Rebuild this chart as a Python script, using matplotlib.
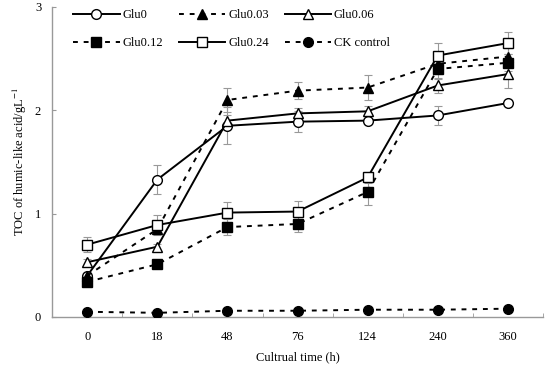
import matplotlib
matplotlib.use("Agg")
import matplotlib.pyplot as plt
import numpy as np

plt.rcParams['font.family'] = ['Liberation Serif', 'DejaVu Serif']
plt.rcParams['mathtext.fontset'] = 'stix'

times = ['0', '18', '48', '76', '124', '240', '360']
series_names = ['Glu0', 'Glu0.03', 'Glu0.06', 'Glu0.12', 'Glu0.24', 'CK control']
glu0 = [0.40, 1.33, 1.85, 1.89, 1.90, 1.95, 2.07]
glu0_err = [0.03, 0.14, 0.18, 0.10, 0.03, 0.09, 0.03]
glu003 = [0.40, 0.85, 2.10, 2.19, 2.22, 2.45, 2.52]
glu003_err = [0.03, 0.05, 0.12, 0.08, 0.12, 0.10, 0.08]
glu006 = [0.53, 0.68, 1.90, 1.97, 1.99, 2.24, 2.35]
glu006_err = [0.03, 0.03, 0.05, 0.05, 0.05, 0.07, 0.13]
glu012 = [0.34, 0.51, 0.87, 0.90, 1.21, 2.40, 2.46]
glu012_err = [0.03, 0.04, 0.08, 0.08, 0.13, 0.10, 0.08]
glu024 = [0.70, 0.89, 1.01, 1.02, 1.35, 2.53, 2.65]
glu024_err = [0.07, 0.10, 0.10, 0.10, 0.05, 0.12, 0.11]
ck = [0.05, 0.04, 0.06, 0.06, 0.07, 0.07, 0.08]
ck_err = [0.01, 0.01, 0.01, 0.01, 0.01, 0.01, 0.01]

data = [glu0, glu003, glu006, glu012, glu024, ck]
errs = [glu0_err, glu003_err, glu006_err, glu012_err, glu024_err, ck_err]
styles = [
    dict(marker='o', mfc='white', ls='-'),
    dict(marker='^', mfc='black', ls=(0, (2.5, 3))),
    dict(marker='^', mfc='white', ls='-'),
    dict(marker='s', mfc='black', ls=(0, (2.5, 3))),
    dict(marker='s', mfc='white', ls='-'),
    dict(marker='o', mfc='black', ls=(0, (2.5, 3))),
]

fig = plt.figure(figsize=(5.5, 3.66), dpi=100)
ax = fig.add_axes([0.095, 0.134, 0.892, 0.847])
x = np.arange(len(times))
handles = []
for y, e, st, name in zip(data, errs, styles, series_names):
    ax.errorbar(x, y, yerr=e, fmt='none', ecolor='#999999', elinewidth=0.8,
                capsize=3, capthick=0.8, zorder=2)
    h, = ax.plot(x, y, color='black', lw=1.4, linestyle=st['ls'],
                 marker=st['marker'], mfc=st['mfc'], mec='black', mew=1.0,
                 ms=7, zorder=3, label=name)
    handles.append(h)

ax.set_xlim(-0.5, 6.5)
ax.set_ylim(0, 3)
ax.set_xticks(x)
ax.set_xticklabels(times)
ax.set_xticks(np.arange(-0.5, 7, 1), minor=True)
ax.tick_params(axis='x', which='major', length=0, labelsize=9, pad=10)
ax.tick_params(axis='x', which='minor', length=3, direction='in', color='#999999')
ax.set_yticks([0, 1, 2, 3])
ax.tick_params(axis='y', which='major', length=3, direction='in', labelsize=9,
               color='#999999', pad=8)
for s in ['top', 'right']:
    ax.spines[s].set_visible(False)
for s in ['left', 'bottom']:
    ax.spines[s].set_color('#999999')
    ax.spines[s].set_linewidth(1.0)

ax.set_xlabel('Cultrual time (h)', fontsize=9, labelpad=6)
ax.set_ylabel('TOC of humic-like acid/gL$^{-1}$', fontsize=9, labelpad=4)

# row-wise legend ordering for 3 columns
order = [0, 3, 1, 4, 2, 5]
ax.legend(handles=[handles[i] for i in order], ncol=3, loc='upper left',
          bbox_to_anchor=(0.02, 1.03), frameon=False, fontsize=9,
          handlelength=3.7, columnspacing=1.25, labelspacing=1.3,
          handletextpad=0.25)

fig.savefig('out.png', dpi=100)
